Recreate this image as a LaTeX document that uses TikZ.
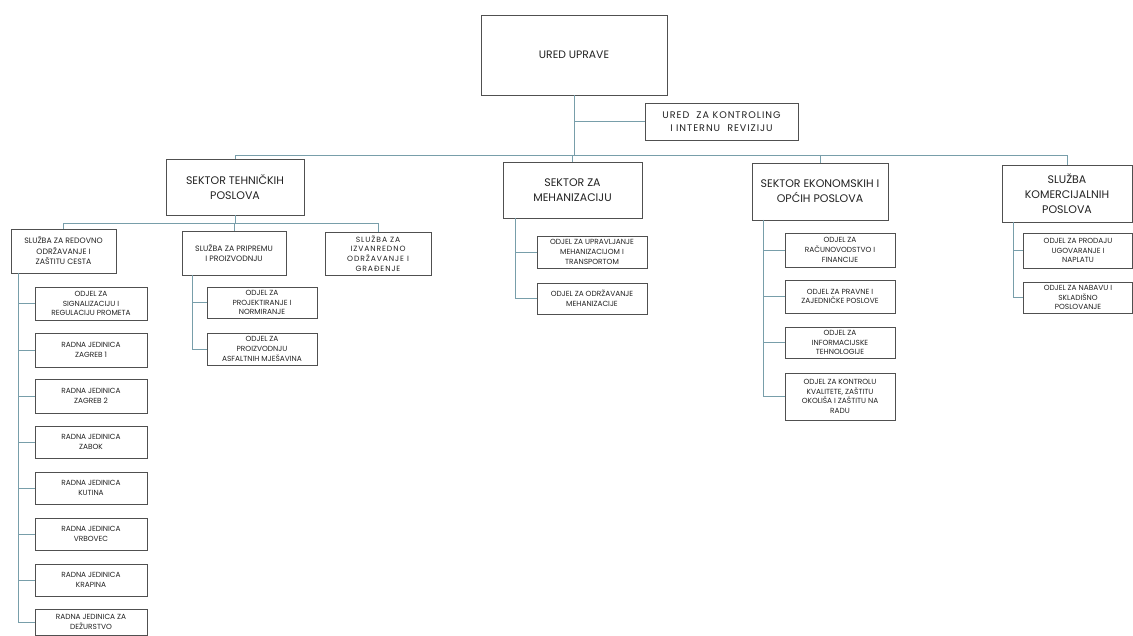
\documentclass[tikz,border=0pt]{standalone}
\usepackage{fontspec}
\setmainfont{Poppins}
\definecolor{lin}{RGB}{120,158,170}
\definecolor{bord}{RGB}{80,80,80}
\definecolor{txt}{RGB}{35,35,35}
\tikzset{
  box/.style={draw=bord, line width=0.7pt, fill=white, text=txt, align=center,
    inner sep=1pt, font=\fontsize{7.4}{9.8}\selectfont},
  midbox/.style={box, font=\fontsize{7.8}{10.5}\selectfont},
  bigbox/.style={box, font=\fontsize{11}{15}\selectfont},
  conn/.style={draw=lin, line width=0.6pt}
}
\begin{document}
\begin{tikzpicture}[x=1pt,y=-1pt]
\useasboundingbox[fill=white] (0,0) rectangle (1133,636);
% top
\node[box, font=\fontsize{10.8}{13}\selectfont, minimum width=186pt, minimum height=80pt] (ured) at (574,55) {URED UPRAVE};
\node[box, font=\fontsize{9.6}{12.5}\selectfont\addfontfeature{LetterSpace=10}, minimum width=153pt, minimum height=37pt] (kontrol) at (721.5,121.5) {URED \ ZA KONTROLING\\ I INTERNU \ REVIZIJU};
% sectors
\node[bigbox, minimum width=138pt, minimum height=56pt] (stp) at (235,187) {SEKTOR TEHNIČKIH\\POSLOVA};
\node[bigbox, minimum width=139pt, minimum height=56pt] (smeh) at (572.5,190) {SEKTOR ZA\\MEHANIZACIJU};
\node[bigbox, minimum width=136pt, minimum height=57pt] (seko) at (820,191.5) {SEKTOR EKONOMSKIH I\\OPĆIH POSLOVA};
\node[bigbox, minimum width=130pt, minimum height=57pt] (skom) at (1067,193.5) {SLUŽBA\\KOMERCIJALNIH\\POSLOVA};
% sluzbe under stp
\node[midbox, minimum width=105pt, minimum height=44pt] (sred) at (63.5,251) {SLUŽBA ZA REDOVNO\\ODRŽAVANJE I\\ZAŠTITU CESTA};
\node[midbox, minimum width=104pt, minimum height=44pt] (sprip) at (234,253) {SLUŽBA ZA PRIPREMU\\I PROIZVODNJU};
\node[box, font=\fontsize{7.6}{9.8}\selectfont\addfontfeature{LetterSpace=12}, minimum width=106pt, minimum height=43pt] (sizv) at (378,253.5) {SLUŽBA ZA\\IZVANREDNO\\ODRŽAVANJE I\\GRAĐENJE};
% children of sred
\node[box, minimum width=112pt, minimum height=33pt] (sig) at (91,303.5) {ODJEL ZA\\SIGNALIZACIJU I\\REGULACIJU PROMETA};
\node[box, minimum width=112pt, minimum height=34pt] (zg1) at (91,350) {RADNA JEDINICA\\ZAGREB 1};
\node[box, minimum width=112pt, minimum height=34pt] (zg2) at (91,396) {RADNA JEDINICA\\ZAGREB 2};
\node[box, minimum width=112pt, minimum height=32pt] (zab) at (91,442) {RADNA JEDINICA\\ZABOK};
\node[box, minimum width=112pt, minimum height=32pt] (kut) at (91,488) {RADNA JEDINICA\\KUTINA};
\node[box, minimum width=112pt, minimum height=32pt] (vrb) at (91,534) {RADNA JEDINICA\\VRBOVEC};
\node[box, minimum width=112pt, minimum height=32pt] (kra) at (91,580) {RADNA JEDINICA\\KRAPINA};
\node[box, minimum width=112pt, minimum height=26pt] (dez) at (91,622) {RADNA JEDINICA ZA\\DEŽURSTVO};
% children of sprip
\node[box, minimum width=110pt, minimum height=31pt] (proj) at (262,302.5) {ODJEL ZA\\PROJEKTIRANJE I\\NORMIRANJE};
\node[box, minimum width=110pt, minimum height=32pt] (asf) at (262,349) {ODJEL ZA\\PROIZVODNJU\\ASFALTNIH MJEŠAVINA};
% children of smeh
\node[box, minimum width=110pt, minimum height=32pt] (upr) at (592,252) {ODJEL ZA UPRAVLJANJE\\MEHANIZACIJOM I\\TRANSPORTOM};
\node[box, minimum width=110pt, minimum height=31pt] (odr) at (592,298.5) {ODJEL ZA ODRŽAVANJE\\MEHANIZACIJE};
% children of seko
\node[box, minimum width=110pt, minimum height=34pt] (rac) at (840,250) {ODJEL ZA\\RAČUNOVODSTVO I\\FINANCIJE};
\node[box, minimum width=110pt, minimum height=33pt] (prav) at (840,296.5) {ODJEL ZA PRAVNE I\\ZAJEDNIČKE POSLOVE};
\node[box, minimum width=110pt, minimum height=31pt] (info) at (840,342.5) {ODJEL ZA\\INFORMACIJSKE\\TEHNOLOGIJE};
\node[box, minimum width=110pt, minimum height=47pt] (kval) at (840,396.5) {ODJEL ZA KONTROLU\\KVALITETE, ZAŠTITU\\OKOLIŠA I ZAŠTITU NA\\RADU};
% children of skom
\node[box, minimum width=109pt, minimum height=35pt] (prod) at (1078,250.5) {ODJEL ZA PRODAJU\\UGOVARANJE I\\NAPLATU};
\node[box, minimum width=109pt, minimum height=31pt] (nab) at (1078,297.5) {ODJEL ZA NABAVU I\\SKLADIŠNO\\POSLOVANJE};
% bus coordinates
\coordinate (bus) at (574,155);
\coordinate (sub) at (235,223);
\coordinate (tr1) at (18,273);
\coordinate (tr2) at (192,275);
\coordinate (tr3) at (515,218);
\coordinate (tr4) at (763,220);
\coordinate (tr5) at (1013,222);
% connectors
\draw[conn] (ured.south) -- (bus);
\draw[conn] (ured.south |- kontrol.west) -- (kontrol.west);
\draw[conn] (stp.north) -- (stp.north |- bus) -- (skom.north |- bus) -- (skom.north);
\draw[conn] (smeh.north |- bus) -- (smeh.north);
\draw[conn] (seko.north |- bus) -- (seko.north);
\draw[conn] (stp.south) -- (sub);
\draw[conn] (sred.north) -- (sred.north |- sub) -- (sizv.north |- sub) -- (sizv.north);
\draw[conn] (sprip.north |- sub) -- (sprip.north);
% sred tree
\draw[conn] (tr1) -- (tr1 |- dez.west) -- (dez.west);
\foreach \n in {sig,zg1,zg2,zab,kut,vrb,kra}{\draw[conn] (tr1 |- \n.west) -- (\n.west);}
% sprip tree
\draw[conn] (tr2) -- (tr2 |- asf.west) -- (asf.west);
\draw[conn] (tr2 |- proj.west) -- (proj.west);
% smeh tree
\draw[conn] (tr3) -- (tr3 |- odr.west) -- (odr.west);
\draw[conn] (tr3 |- upr.west) -- (upr.west);
% seko tree
\draw[conn] (tr4) -- (tr4 |- kval.west) -- (kval.west);
\foreach \n in {rac,prav,info}{\draw[conn] (tr4 |- \n.west) -- (\n.west);}
% skom tree
\draw[conn] (tr5) -- (tr5 |- nab.west) -- (nab.west);
\draw[conn] (tr5 |- prod.west) -- (prod.west);
\end{tikzpicture}
\end{document}
